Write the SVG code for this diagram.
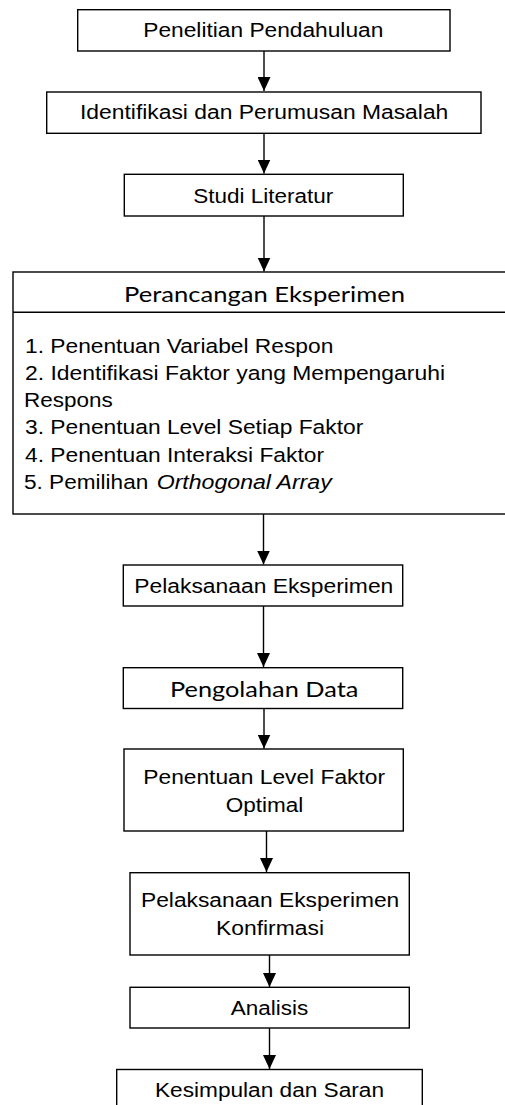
<svg xmlns="http://www.w3.org/2000/svg" width="505" height="1105" viewBox="0 0 505 1105">
  <defs>
    <marker id="arrowhead" viewBox="0 0 14 13" refX="14" refY="6.5" markerWidth="14" markerHeight="13" markerUnits="userSpaceOnUse" orient="auto">
      <path d="M0,0 L14,6.5 L0,13 z" fill="#000"/>
    </marker>
    <style>
      .box { fill: #fff; stroke: #000; stroke-width: 1.4; }
      .lbl { font-family: "Liberation Sans", Arial, sans-serif; font-size: 19.5px; fill: #000; }
      .lbl2 { font-family: Lato, "Open Sans", sans-serif; font-size: 21px; fill: #000; }
      .item { font-family: "Liberation Sans", Arial, sans-serif; font-size: 20.5px; fill: #000; }
      .conn line { stroke: #000; stroke-width: 1.4; marker-end: url(#arrowhead); }
    </style>
  </defs>
  <rect width="505" height="1105" fill="#fff"/>

  <!-- connectors -->
  <g id="connectors" class="conn">
    <line x1="264" y1="51" x2="264" y2="91"/>
    <line x1="264" y1="133.5" x2="264" y2="173.5"/>
    <line x1="264" y1="216" x2="264" y2="271.5"/>
    <line x1="263.5" y1="514" x2="263.5" y2="564.5"/>
    <line x1="263.5" y1="606" x2="263.5" y2="667"/>
    <line x1="264" y1="708.5" x2="264" y2="748.5"/>
    <line x1="266.5" y1="831" x2="266.5" y2="872"/>
    <line x1="269.5" y1="955" x2="269.5" y2="987"/>
    <line x1="269.5" y1="1028" x2="269.5" y2="1069"/>
  </g>

  <g id="penelitian-pendahuluan">
    <rect class="box" x="77.7" y="9.7" width="372.3" height="41.3"/>
    <text class="lbl" x="143.3" y="37.3" textLength="240" lengthAdjust="spacingAndGlyphs">Penelitian Pendahuluan</text>
  </g>

  <g id="identifikasi-perumusan">
    <rect class="box" x="46.7" y="92" width="434.3" height="41.3"/>
    <text class="lbl" x="80" y="119.3" textLength="368.3" lengthAdjust="spacingAndGlyphs">Identifikasi dan Perumusan Masalah</text>
  </g>

  <g id="studi-literatur">
    <rect class="box" x="124.3" y="174.3" width="279" height="41.7"/>
    <text class="lbl" x="193.3" y="202.7" textLength="140" lengthAdjust="spacingAndGlyphs">Studi Literatur</text>
  </g>

  <g id="perancangan-eksperimen">
    <rect class="box" x="13" y="272" width="500" height="242"/>
    <line x1="13" y1="312.3" x2="505" y2="312.3" stroke="#000" stroke-width="1.4"/>
    <text class="lbl2" x="124" y="301.7" textLength="281" lengthAdjust="spacingAndGlyphs">Perancangan Eksperimen</text>
    <text class="item" x="25" y="353.3" textLength="308.3" lengthAdjust="spacingAndGlyphs">1. Penentuan Variabel Respon</text>
    <text class="item" x="25" y="380" textLength="420" lengthAdjust="spacingAndGlyphs">2. Identifikasi Faktor yang Mempengaruhi</text>
    <text class="item" x="24" y="407" textLength="88.7" lengthAdjust="spacingAndGlyphs">Respons</text>
    <text class="item" x="25" y="434.3" textLength="338.3" lengthAdjust="spacingAndGlyphs">3. Penentuan Level Setiap Faktor</text>
    <text class="item" x="25" y="461.5" textLength="299" lengthAdjust="spacingAndGlyphs">4. Penentuan Interaksi Faktor</text>
    <text class="item" x="24" y="488.5"><tspan textLength="124.3" lengthAdjust="spacingAndGlyphs">5. Pemilihan</tspan><tspan x="156.7" font-style="italic" textLength="175" lengthAdjust="spacingAndGlyphs">Orthogonal Array</tspan></text>
  </g>

  <g id="pelaksanaan-eksperimen">
    <rect class="box" x="123.3" y="565" width="279.4" height="41"/>
    <text class="lbl" x="134.3" y="593.3" textLength="259" lengthAdjust="spacingAndGlyphs">Pelaksanaan Eksperimen</text>
  </g>

  <g id="pengolahan-data">
    <rect class="box" x="123.3" y="667.7" width="279.4" height="40.8"/>
    <text class="lbl2" x="170" y="696.7" textLength="188.3" lengthAdjust="spacingAndGlyphs">Pengolahan Data</text>
  </g>

  <g id="penentuan-level-optimal">
    <rect class="box" x="124" y="749" width="279.3" height="82"/>
    <text class="lbl" x="143.3" y="784" textLength="241.7" lengthAdjust="spacingAndGlyphs">Penentuan Level Faktor</text>
    <text class="lbl" x="225.7" y="811.7" textLength="77.6" lengthAdjust="spacingAndGlyphs">Optimal</text>
  </g>

  <g id="eksperimen-konfirmasi">
    <rect class="box" x="130" y="872.7" width="279.3" height="82.3"/>
    <text class="lbl" x="141" y="906.7" textLength="258.3" lengthAdjust="spacingAndGlyphs">Pelaksanaan Eksperimen</text>
    <text class="lbl" x="216" y="935" textLength="108" lengthAdjust="spacingAndGlyphs">Konfirmasi</text>
  </g>

  <g id="analisis">
    <rect class="box" x="130" y="987.3" width="279.3" height="40.7"/>
    <text class="lbl" x="230.7" y="1015" textLength="77.6" lengthAdjust="spacingAndGlyphs">Analisis</text>
  </g>

  <g id="kesimpulan-saran">
    <rect class="box" x="116.7" y="1069.5" width="305.6" height="50"/>
    <text class="lbl" x="155" y="1096.7" textLength="229" lengthAdjust="spacingAndGlyphs">Kesimpulan dan Saran</text>
  </g>
</svg>
